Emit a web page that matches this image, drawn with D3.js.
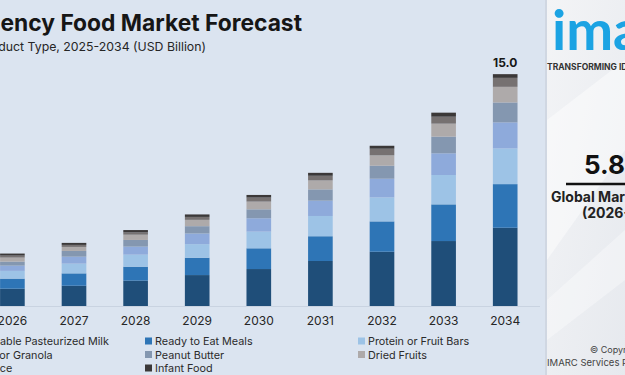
<!DOCTYPE html>
<html>
<head>
<meta charset="utf-8">
<script src="https://cdn.jsdelivr.net/npm/d3@7"></script>
<style>
  html, body { margin: 0; padding: 0; background: #dbe4f0; }
  svg { display: block; font-family: Inter, 'Noto Sans', sans-serif; }
</style>
</head>
<body>
<svg id="chart"></svg>
<script>
const years = ['2025', '2026', '2027', '2028', '2029', '2030', '2031', '2032', '2033', '2034']
const seriesNames = [
  'Non-Perishable Pasteurized Milk',
  'Ready to Eat Meals',
  'Protein or Fruit Bars',
  'Dry Cereal or Granola',
  'Peanut Butter',
  'Dried Fruits',
  'Canned Juice',
  'Infant Food',
]
const milk = [0.93, 1.12, 1.31, 1.64, 2.0, 2.39, 2.91, 3.51, 4.2, 5.06]
const readyMeals = [0.55, 0.65, 0.8, 0.9, 1.12, 1.34, 1.6, 1.96, 2.37, 2.82]
const bars = [0.42, 0.5, 0.63, 0.78, 0.88, 1.08, 1.31, 1.55, 1.9, 2.31]
const cereal = [0.3, 0.34, 0.45, 0.52, 0.69, 0.86, 0.99, 1.21, 1.4, 1.68]
const peanutButter = [0.22, 0.26, 0.37, 0.43, 0.47, 0.58, 0.73, 0.84, 1.08, 1.29]
const driedFruits = [0.2, 0.26, 0.26, 0.34, 0.41, 0.5, 0.58, 0.67, 0.84, 1.01]
const cannedJuice = [0.11, 0.13, 0.13, 0.15, 0.19, 0.26, 0.3, 0.43, 0.45, 0.58]
const infantFood = [0.1, 0.13, 0.13, 0.15, 0.16, 0.17, 0.19, 0.19, 0.26, 0.24]
const colors = ['#1f4e79', '#2e75b6', '#9dc3e6', '#8eaadb', '#8497b0', '#aeaaaa', '#767171', '#3b3838']

const seriesValues = [milk, readyMeals, bars, cereal, peanutButter, driedFruits, cannedJuice, infantFood]

const drawChart = () => {
  const width = 625
  const height = 375
  const svg = d3.select('#chart').attr('width', width).attr('height', height)

  svg.append('rect').attr('width', width).attr('height', height).attr('fill', '#dbe4f0')

  // title block, left part is cropped off in the original
  svg.append('text')
    .attr('x', 302).attr('y', 31)
    .attr('text-anchor', 'end')
    .style('font-size', '22.8px').style('font-weight', 700).attr('fill', '#161616')
    .text('Emergency Food Market Forecast')
  svg.append('text')
    .attr('x', 206).attr('y', 51)
    .attr('text-anchor', 'end')
    .style('font-size', '12.3px').attr('fill', '#262626')
    .text('By Product Type, 2025-2034 (USD Billion)')

  const table = years.map((y, i) => {
    const row = { year: y }
    seriesNames.forEach((s, j) => { row[s] = seriesValues[j][i] })
    return row
  })
  const stacked = d3.stack().keys(seriesNames)(table)

  const xScale = d3.scaleBand().domain(years).range([-80, 536]).paddingInner(0.6).paddingOuter(0.3)
  const yScale = d3.scaleLinear().domain([0, 15]).range([306, 74])

  svg.append('line')
    .attr('x1', -80).attr('x2', 540)
    .attr('y1', yScale(0) + 0.5).attr('y2', yScale(0) + 0.5)
    .attr('stroke', '#c9d3e1')

  svg.append('g')
    .selectAll('g')
    .data(stacked)
    .join('g')
    .attr('fill', (d, i) => colors[i])
    .selectAll('rect')
    .data((d) => d)
    .join('rect')
    .attr('x', (d) => xScale(d.data.year))
    .attr('width', xScale.bandwidth())
    .attr('y', (d) => yScale(d[1]))
    .attr('height', (d) => yScale(d[0]) - yScale(d[1]))

  const totals = table.map((r) => ({ year: r.year, total: d3.sum(seriesNames, (s) => r[s]) }))
  svg.append('g')
    .selectAll('text')
    .data([totals[0], totals[totals.length - 1]])
    .join('text')
    .attr('x', (d) => xScale(d.year) + xScale.bandwidth() / 2)
    .attr('y', (d) => yScale(d.total) - 7)
    .attr('text-anchor', 'middle')
    .style('font-size', '12px').style('font-weight', 700).attr('fill', '#161616')
    .text((d) => d.total.toFixed(1))

  const axisX = d3.axisBottom(xScale).tickSize(0).tickPadding(10)
  const gx = svg.append('g')
    .attr('transform', `translate(0,${yScale(0)})`)
    .call(axisX)
  gx.select('.domain').remove()
  gx.selectAll('text')
    .style('font-size', '12px').style('font-family', 'Inter, sans-serif').attr('fill', '#262626')

  // legend, 3 columns
  const legend = svg.append('g')
    .selectAll('g')
    .data(seriesNames)
    .join('g')
    .attr('transform', (d, i) => `translate(${-68 + (i % 3) * 213},${337.5 + Math.floor(i / 3) * 13.5})`)
  legend.append('rect').attr('width', 7).attr('height', 7).attr('fill', (d, i) => colors[i])
  legend.append('text')
    .attr('x', 10).attr('y', 7.5)
    .style('font-size', '10.8px').attr('fill', '#2b2b2b')
    .text((d) => d)

  drawPanel(svg)
}

const drawPanel = (svg) => {
  const px = 547
  const defs = svg.append('defs')
  const grad = defs.append('linearGradient').attr('id', 'panelGrad')
    .attr('x1', 0).attr('y1', 0).attr('x2', 1).attr('y2', 1)
  grad.append('stop').attr('offset', 0).attr('stop-color', '#f3f4f6')
  grad.append('stop').attr('offset', 1).attr('stop-color', '#e6e9ee')

  svg.append('rect').attr('x', px - 2).attr('y', 0).attr('width', 3).attr('height', 375).attr('fill', '#c8cfd9').attr('opacity', 0.6)
  svg.append('rect').attr('x', px).attr('y', 0).attr('width', 80).attr('height', 375).attr('fill', 'url(#panelGrad)')
  svg.append('path').attr('d', `M${px},120 L625,60 L625,150 L${px},260 Z`).attr('fill', '#ffffff').attr('opacity', 0.45)
  svg.append('path').attr('d', `M${px},300 L625,230 L625,280 L${px},340 Z`).attr('fill', '#ffffff').attr('opacity', 0.35)

  svg.append('text')
    .attr('x', 552).attr('y', 50)
    .style('font-size', '56px').style('font-weight', 700).style('font-family', 'Lato, sans-serif')
    .attr('fill', '#1ba3e3')
    .text('imarc')
  svg.append('text')
    .attr('x', 547).attr('y', 70)
    .style('font-size', '8.5px').style('font-weight', 700).attr('fill', '#333')
    .text('TRANSFORMING IDEAS INTO IMPACT')

  svg.append('text')
    .attr('x', 584).attr('y', 174)
    .style('font-size', '26px').style('font-weight', 700).attr('fill', '#111')
    .text('5.8%')
  svg.append('line')
    .attr('x1', 566).attr('x2', 640).attr('y1', 184).attr('y2', 184)
    .attr('stroke', '#111').attr('stroke-width', 2.5)
  svg.append('text')
    .attr('x', 551).attr('y', 202)
    .style('font-size', '14px').style('font-weight', 700).attr('fill', '#222')
    .text('Global Market Growth Rate')
  svg.append('text')
    .attr('x', 582).attr('y', 218)
    .style('font-size', '14px').style('font-weight', 700).attr('fill', '#222')
    .text('(2026-2034)')

  svg.append('text')
    .attr('x', 590).attr('y', 353)
    .style('font-size', '9px').attr('fill', '#444')
    .text('© Copyright')
  svg.append('text')
    .attr('x', 547).attr('y', 366)
    .style('font-size', '9.5px').attr('fill', '#444')
    .text('IMARC Services Private Limited')
}

drawChart()
</script>
</body>
</html>
